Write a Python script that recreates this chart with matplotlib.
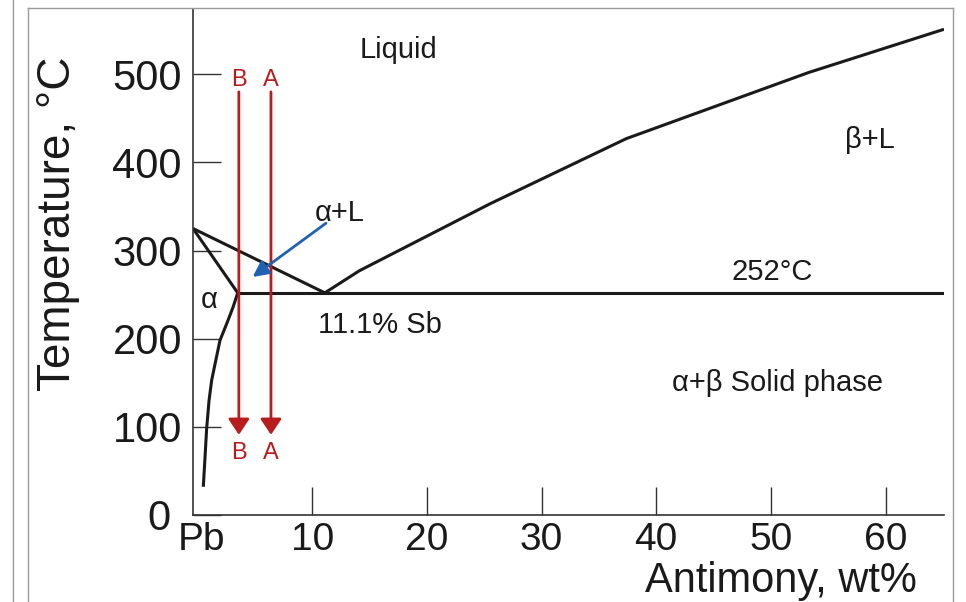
import matplotlib
matplotlib.use("Agg")
import matplotlib.pyplot as plt
from matplotlib.lines import Line2D
from matplotlib.transforms import ScaledTranslation

plt.rcParams['font.family'] = ['Liberation Sans', 'DejaVu Sans']

# phase boundaries (wt% Sb, deg C)
pb_liquidus_x = [-0.4, 11.1]
pb_liquidus_t = [325, 252]
sb_liquidus_x = [11.1, 14.1, 25.5, 37.4, 53.3, 65.1]
sb_liquidus_t = [252, 277, 353, 427, 502, 551]
solidus_x = [-0.4, 3.5]
solidus_t = [325, 252]
solvus_x = [3.5, 3.1, 2.6, 1.95, 1.23, 1.0, 0.79, 0.65, 0.5]
solvus_t = [252, 236, 219, 198, 153, 130, 98, 66, 32]
eutectic_x = [3.5, 65.1]
eutectic_t = [252, 252]

x_ticks = [0, 10, 20, 30, 40, 50, 60]
x_tick_labels = ['Pb', '10', '20', '30', '40', '50', '60']
y_ticks = [0, 100, 200, 300, 400, 500]

alloy_names = ['B', 'A']
alloy_x = [3.6, 6.4]
cool_from = 480
cool_to = 91

arrow_tail = (11.2, 331)
arrow_head = (4.8, 270)

labels = ['Liquid', '\u03b2+L', '\u03b1+L', '252\u00b0C', '\u03b1', '11.1% Sb', '\u03b1+\u03b2 Solid phase']
label_x = [17.5, 58.6, 12.4, 50.1, 1.0, 15.9, 50.6]
label_t = [528, 425, 343, 276, 244, 216, 150]

RED = '#b81c1c'
BLUE = '#1f63b0'
INK = '#1a1a1a'


def main():
    fig = plt.figure(figsize=(9.66, 6.02), dpi=100)
    W, H = 966, 602

    # the surrounding frame of the page
    frame = dict(transform=fig.transFigure, color='#9a9a9a', lw=1.0)
    fig.add_artist(Line2D([13 / W, 13 / W], [0, 1], **frame))
    top = 1 - 8 / H
    fig.add_artist(Line2D([28 / W, 28 / W], [0, top], **frame))
    fig.add_artist(Line2D([28 / W, 953 / W], [top, top], **frame))
    fig.add_artist(Line2D([953 / W, 953 / W], [0, top], **frame))

    ax = fig.add_axes([193 / W, 1 - 515 / H, (944 - 193) / W, (515 - 9) / H])
    ax.set_xlim(-0.4, 65.1)
    ax.set_ylim(0, 574)

    for x, t in [(pb_liquidus_x, pb_liquidus_t), (sb_liquidus_x, sb_liquidus_t),
                 (solidus_x, solidus_t), (solvus_x, solvus_t), (eutectic_x, eutectic_t)]:
        ax.plot(x, t, color=INK, lw=2.2, solid_capstyle='butt', solid_joinstyle='round')

    for name, x in zip(alloy_names, alloy_x):
        ax.annotate('', xy=(x, cool_to), xytext=(x, cool_from),
                    arrowprops=dict(arrowstyle='-|>,head_length=0.6,head_width=0.4',
                                    color=RED, lw=2, mutation_scale=16,
                                    shrinkA=0, shrinkB=0))
        ax.text(x, 493, name, color=RED, fontsize=17, ha='center', va='center')
        ax.text(x, 70, name, color=RED, fontsize=17, ha='center', va='center')

    ax.annotate('', xy=arrow_head, xytext=arrow_tail,
                arrowprops=dict(arrowstyle='-|>,head_length=0.8,head_width=0.4',
                                color=BLUE, lw=2, mutation_scale=12,
                                shrinkA=0, shrinkB=0))

    for s, x, t in zip(labels, label_x, label_t):
        ax.text(x, t, s, fontsize=21, ha='center', va='center', color=INK)

    ax.spines['top'].set_visible(False)
    ax.spines['right'].set_visible(False)
    for side in ['left', 'bottom']:
        ax.spines[side].set_color('#333333')
        ax.spines[side].set_linewidth(1.2)

    ax.set_xticks(x_ticks)
    ax.set_xticklabels(x_tick_labels)
    ax.set_yticks(y_ticks)
    ax.tick_params(direction='in', length=20, width=1.0, color='#333333', labelcolor=INK)
    ax.tick_params(axis='y', pad=8, labelsize=30)
    ax.tick_params(axis='x', pad=5, labelsize=28)
    ax.xaxis.get_major_ticks()[0].tick1line.set_visible(False)

    # nudge the "0" left and "Pb" right so they don't collide in the corner
    zero = ax.yaxis.get_major_ticks()[0].label1
    zero.set_transform(zero.get_transform() + ScaledTranslation(-8 / 72, 0, fig.dpi_scale_trans))
    pb = ax.xaxis.get_major_ticks()[0].label1
    pb.set_transform(pb.get_transform() + ScaledTranslation(3 / 72, 0, fig.dpi_scale_trans))

    ax.set_ylabel('Temperature, \u00b0C', fontsize=33, color=INK)
    ax.yaxis.set_label_coords(-0.15, 0.575)
    ax.set_xlabel('Antimony, wt%', fontsize=30, color=INK)
    ax.xaxis.label.set_ha('right')
    ax.xaxis.set_label_coords(0.964, -0.09)

    fig.savefig('out.png', dpi=100)


if __name__ == "__main__":
    main()
